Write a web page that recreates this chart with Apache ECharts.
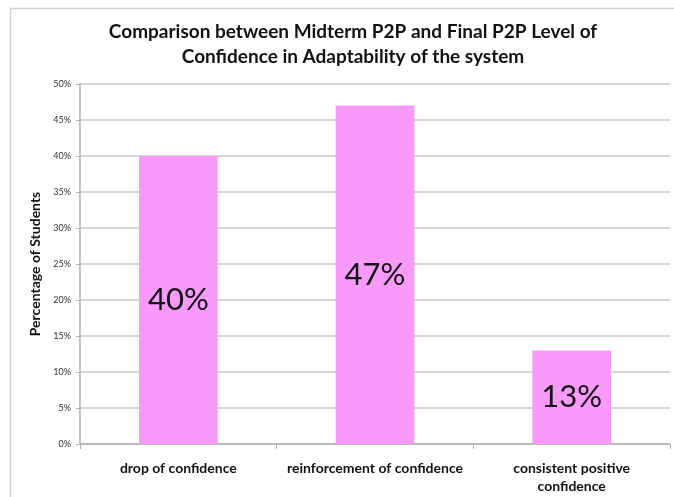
<!DOCTYPE html>
<html>
<head>
<meta charset="utf-8">
<script src="https://cdn.jsdelivr.net/npm/echarts@6/dist/echarts.min.js"></script>
<style>
  html, body { margin: 0; padding: 0; background: #fff; }
  #chart { width: 674px; height: 497px; }
</style>
</head>
<body>
<div id="chart"></div>
<script>
// Chart content
const titleLines = ['Comparison between Midterm P2P and Final P2P Level of', 'Confidence in Adaptability of the system'];
const categories = ['drop of confidence', 'reinforcement of confidence', 'consistent positive\nconfidence'];
const percentValues = [40, 47, 13];
const yAxisTitle = 'Percentage of Students';

const chart = echarts.init(document.getElementById('chart'), null, { renderer: 'canvas' });

chart.setOption({
  backgroundColor: '#ffffff',
  animation: false,
  title: {
    text: titleLines.join('\n'),
    left: 348,
    top: 14,
    textAlign: 'center',
    textStyle: {
      fontFamily: 'Lato',
      fontWeight: 'bold',
      fontSize: 19,
      lineHeight: 25,
      color: '#111'
    }
  },
  graphic: [
    {
      type: 'rect',
      shape: { x: 10.5, y: 8.5, width: 700, height: 520 },
      style: { fill: 'none', stroke: '#d0d0d0', lineWidth: 1.5 },
      silent: true
    }
  ],
  grid: { left: 80, right: 4, top: 84, bottom: 53, containLabel: false },
  xAxis: {
    type: 'category',
    data: categories,
    axisLine: { lineStyle: { color: '#b0b0b0', width: 1.5 } },
    axisTick: { show: true, alignWithLabel: false, length: 5, lineStyle: { color: '#b0b0b0' } },
    axisLabel: {
      fontFamily: 'Lato',
      fontWeight: 'bold',
      fontSize: 14,
      lineHeight: 18,
      color: '#111',
      margin: 15,
      interval: 0
    }
  },
  yAxis: {
    type: 'value',
    min: 0,
    max: 50,
    interval: 5,
    name: yAxisTitle,
    nameLocation: 'middle',
    nameGap: 38,
    nameTextStyle: { fontFamily: 'Lato', fontWeight: 'bold', fontSize: 14, color: '#111' },
    axisLine: { show: true, lineStyle: { color: '#b0b0b0', width: 1.5 } },
    axisTick: { show: true, length: 4, lineStyle: { color: '#b0b0b0' } },
    axisLabel: {
      formatter: '{value}%',
      fontFamily: 'Lato',
      fontSize: 9,
      color: '#333',
      margin: 9
    },
    splitLine: { lineStyle: { color: '#cacaca', width: 1.5 } }
  },
  series: [
    {
      type: 'bar',
      data: percentValues,
      barWidth: '40%',
      itemStyle: { color: '#F99AFB' },
      label: {
        show: true,
        position: 'inside',
        formatter: '{c}%',
        fontFamily: 'Lato',
        fontSize: 31,
        color: '#111'
      }
    }
  ]
});
</script>
</body>
</html>
